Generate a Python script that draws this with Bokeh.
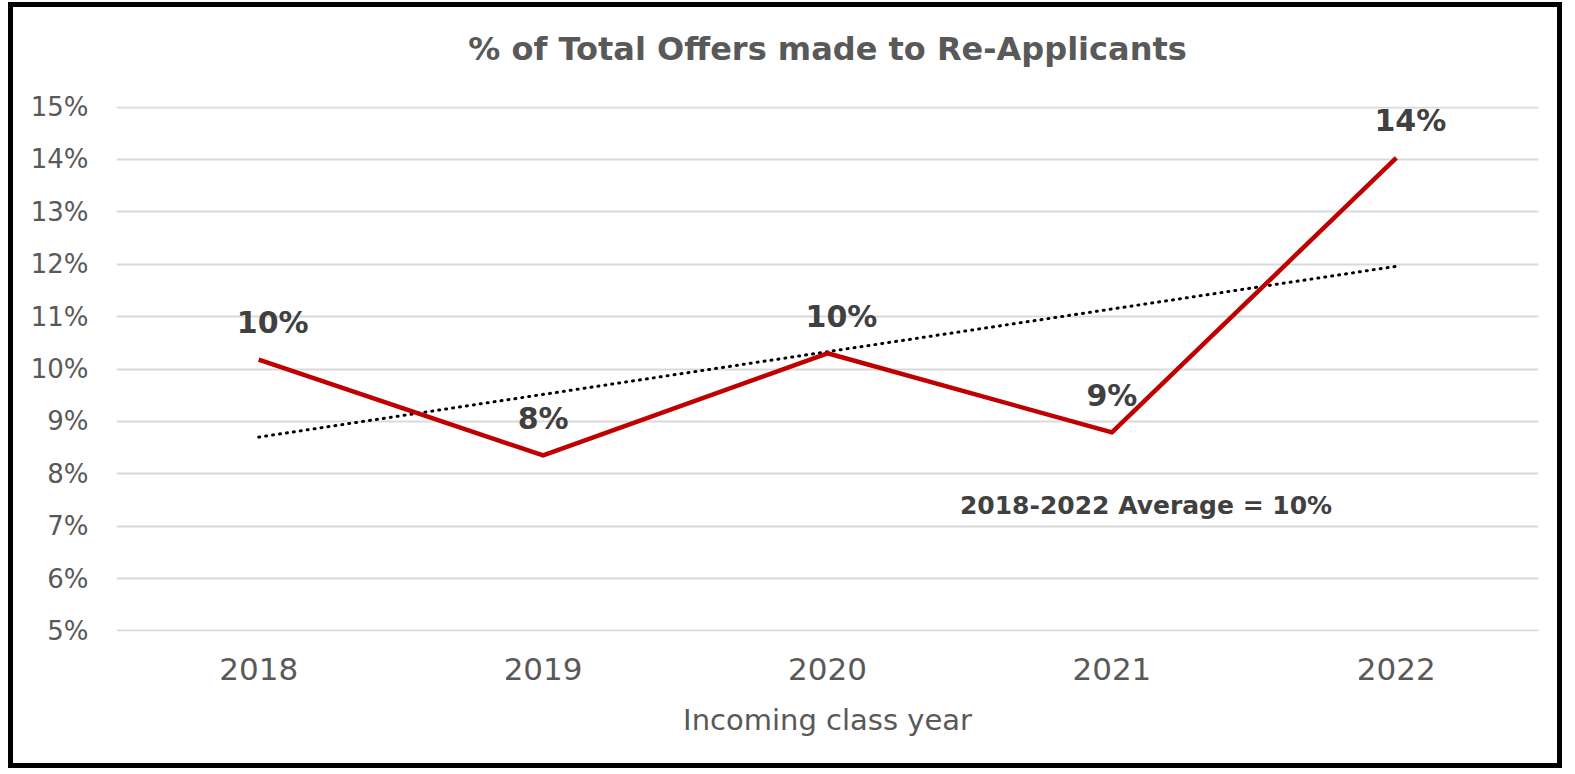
from bokeh.plotting import figure
from bokeh.models import ColumnDataSource, Range1d, FixedTicker, PrintfTickFormatter, Label, Title
from bokeh.embed import file_html
from bokeh.resources import INLINE

years = ["2018", "2019", "2020", "2021", "2022"]
pct = [10.18, 8.35, 10.30, 8.79, 14.03]
pct_labels = ["10%", "8%", "10%", "9%", "14%"]
trend_years = ["2018", "2022"]
trend_pct = [8.70, 11.96]
y_ticks = [5, 6, 7, 8, 9, 10, 11, 12, 13, 14, 15]
title_text = "% of Total Offers made to Re-Applicants"
x_title = "Incoming class year"
avg_text = "2018-2022 Average = 10%"

FONT = "DejaVu Sans"
W, H = 1554, 766
xpos = list(range(len(years)))
tpos = [years.index(y) for y in trend_years]

p = figure(width=W, height=H, output_backend="svg", toolbar_location=None,
           x_range=Range1d(-0.5, len(years) - 0.5), y_range=Range1d(4.99, 15.01),
           min_border_left=103, min_border_right=29, min_border_top=99, min_border_bottom=142,
           title=title_text,
           styles={"border": "5px solid black", "margin-left": "8px", "margin-top": "2px"})
p.background_fill_color = "white"
p.border_fill_color = "white"
p.outline_line_color = None

p.title.align = "center"
p.title.text_font = FONT
p.title.text_font_size = "32px"
p.title.text_font_style = "bold"
p.title.text_color = "#595959"
p.title.standoff = 40

# spacer between the chart title and the plot frame
p.add_layout(Title(text=" ", text_font_size="1px", standoff=16), "above")

p.yaxis.ticker = FixedTicker(ticks=y_ticks)
p.yaxis.formatter = PrintfTickFormatter(format="%d%%")
p.xaxis.ticker = FixedTicker(ticks=xpos)
p.xaxis.major_label_overrides = {i: y for i, y in enumerate(years)}
for ax in (p.xaxis, p.yaxis):
    ax.axis_line_color = None
    ax.major_tick_line_color = None
    ax.minor_tick_line_color = None
    ax.major_label_text_font = FONT
    ax.major_label_text_color = "#595959"
p.yaxis.major_label_text_font_size = "26px"
p.yaxis.major_label_standoff = 22
p.xaxis.major_label_text_font_size = "31px"
p.xaxis.major_label_standoff = 20
p.xaxis.axis_label = x_title
p.xaxis.axis_label_text_font = FONT
p.xaxis.axis_label_text_font_size = "29px"
p.xaxis.axis_label_text_font_style = "normal"
p.xaxis.axis_label_text_color = "#595959"
p.xaxis.axis_label_standoff = 20

p.xgrid.grid_line_color = None
p.ygrid.ticker = FixedTicker(ticks=y_ticks)
p.ygrid.grid_line_color = "#d9d9d9"
p.ygrid.grid_line_width = 2

src = ColumnDataSource(dict(x=xpos, y=pct, lab=pct_labels,
                            dx=[14 if len(s) > 2 else 0 for s in pct_labels]))

p.line(x=tpos, y=trend_pct, line_color="black", line_width=3,
       line_dash="1 6", line_cap="round")
p.line(x="x", y="y", source=src, line_color="#C00000", line_width=4.5, line_join="round")
p.text(x="x", y="y", text="lab", source=src, x_offset="dx", y_offset=-37,
       text_align="center", text_baseline="middle", text_font_size="30px",
       text_font_style="bold", text_color="#404040", text_font={"value": FONT})

p.add_layout(Label(x=3.12, y=7.4, text=avg_text, text_align="center", text_baseline="middle",
                   text_font=FONT, text_font_size="25px", text_font_style="bold",
                   text_color="#404040"))

open("out.html", "w").write(file_html(p, INLINE))
